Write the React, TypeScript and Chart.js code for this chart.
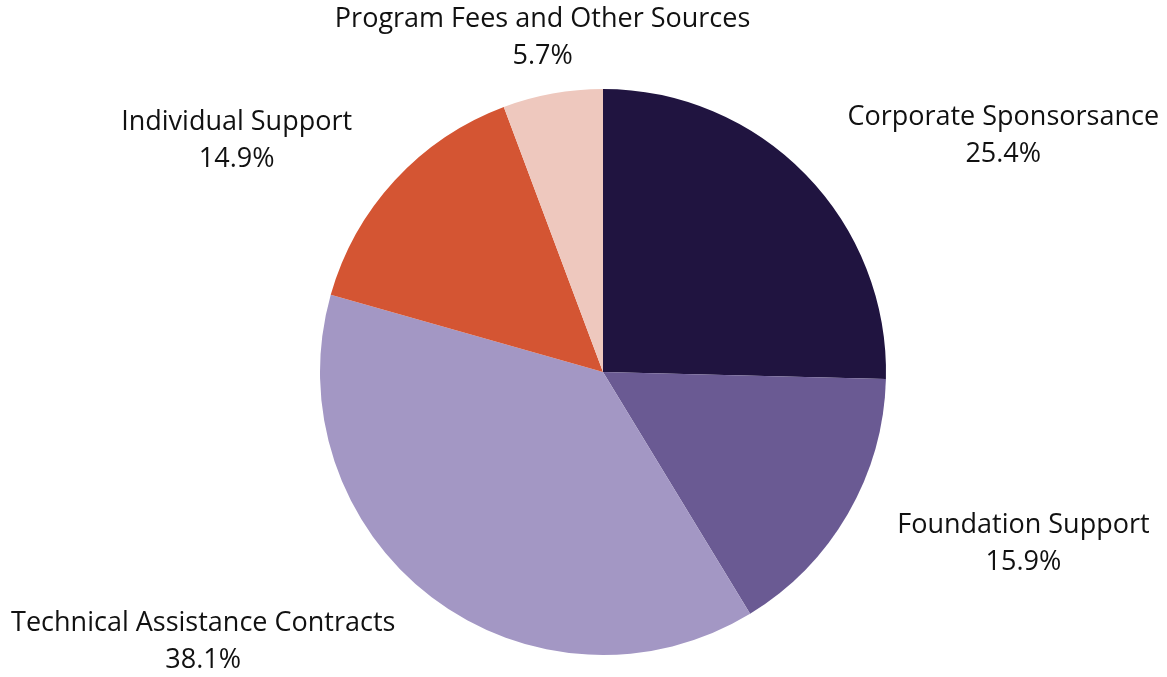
import React, { useEffect, useRef } from "react";
import { Chart, registerables } from "chart.js";

Chart.register(...registerables);

const categories = [
  "Corporate Sponsorsance",
  "Foundation Support",
  "Technical Assistance Contracts",
  "Individual Support",
  "Program Fees and Other Sources",
];
const shares = [25.4, 15.9, 38.1, 14.9, 5.7];
const colors = ["#201440", "#6a5a93", "#a397c4", "#d45533", "#eec8be"];

const labelPlugin = {
  id: "outsideLabels",
  afterDraw(chart: any) {
    const ctx = chart.ctx;
    const meta = chart.getDatasetMeta(0);
    const fontSize = 27;
    const lineH = 37;
    ctx.save();
    ctx.font = `${fontSize}px "Open Sans"`;
    ctx.fillStyle = "#111111";
    ctx.textBaseline = "middle";
    ctx.textAlign = "center";
    meta.data.forEach((arc: any, i: number) => {
      const { x, y, startAngle, endAngle, outerRadius } = arc.getProps(
        ["x", "y", "startAngle", "endAngle", "outerRadius"],
        true
      );
      const mid = (startAngle + endAngle) / 2;
      const ax = x + outerRadius * Math.cos(mid);
      const ay = y + outerRadius * Math.sin(mid);
      const sinT = Math.cos(mid);
      const cosT = -Math.sin(mid);
      const lines = [categories[i], `${shares[i].toFixed(1)}%`];
      const w = Math.max(...lines.map((l) => ctx.measureText(l).width));
      const h = lineH * lines.length;
      const side = Math.abs(sinT) >= 0.3;
      const gap = 42 + 50 * (Math.abs(sinT) - 0.72);
      let cx: number;
      if (side && sinT > 0) cx = ax + gap + w / 2;
      else if (side) cx = ax - gap - w / 2;
      else cx = ax - 10;
      let top: number;
      if (cosT > 0) top = ay - h + (side ? -2 : -19);
      else top = ay - 6.5 + 46.7 * (Math.abs(cosT) - 0.5);
      lines.forEach((l, k) => {
        ctx.fillText(l, cx, top + lineH * k + lineH / 2);
      });
    });
    ctx.restore();
  },
};

export default function App() {
  const ref = useRef<HTMLCanvasElement>(null);
  useEffect(() => {
    if (!ref.current) return;
    const chart = new Chart(ref.current, {
      type: "pie",
      data: {
        labels: categories,
        datasets: [
          {
            data: shares,
            backgroundColor: colors,
            borderWidth: 0,
          },
        ],
      },
      options: {
        animation: false,
        responsive: true,
        maintainAspectRatio: false,
        layout: { padding: { top: 89, bottom: 22, left: 320, right: 281 } },
        plugins: {
          legend: { display: false },
          tooltip: { enabled: false },
        },
      },
      plugins: [labelPlugin],
    });
    return () => chart.destroy();
  }, []);
  return (
    <div
      style={{
        position: "fixed",
        left: 0,
        top: 0,
        width: 1167,
        height: 677,
        background: "#ffffff",
      }}
    >
      <canvas ref={ref} />
    </div>
  );
}
